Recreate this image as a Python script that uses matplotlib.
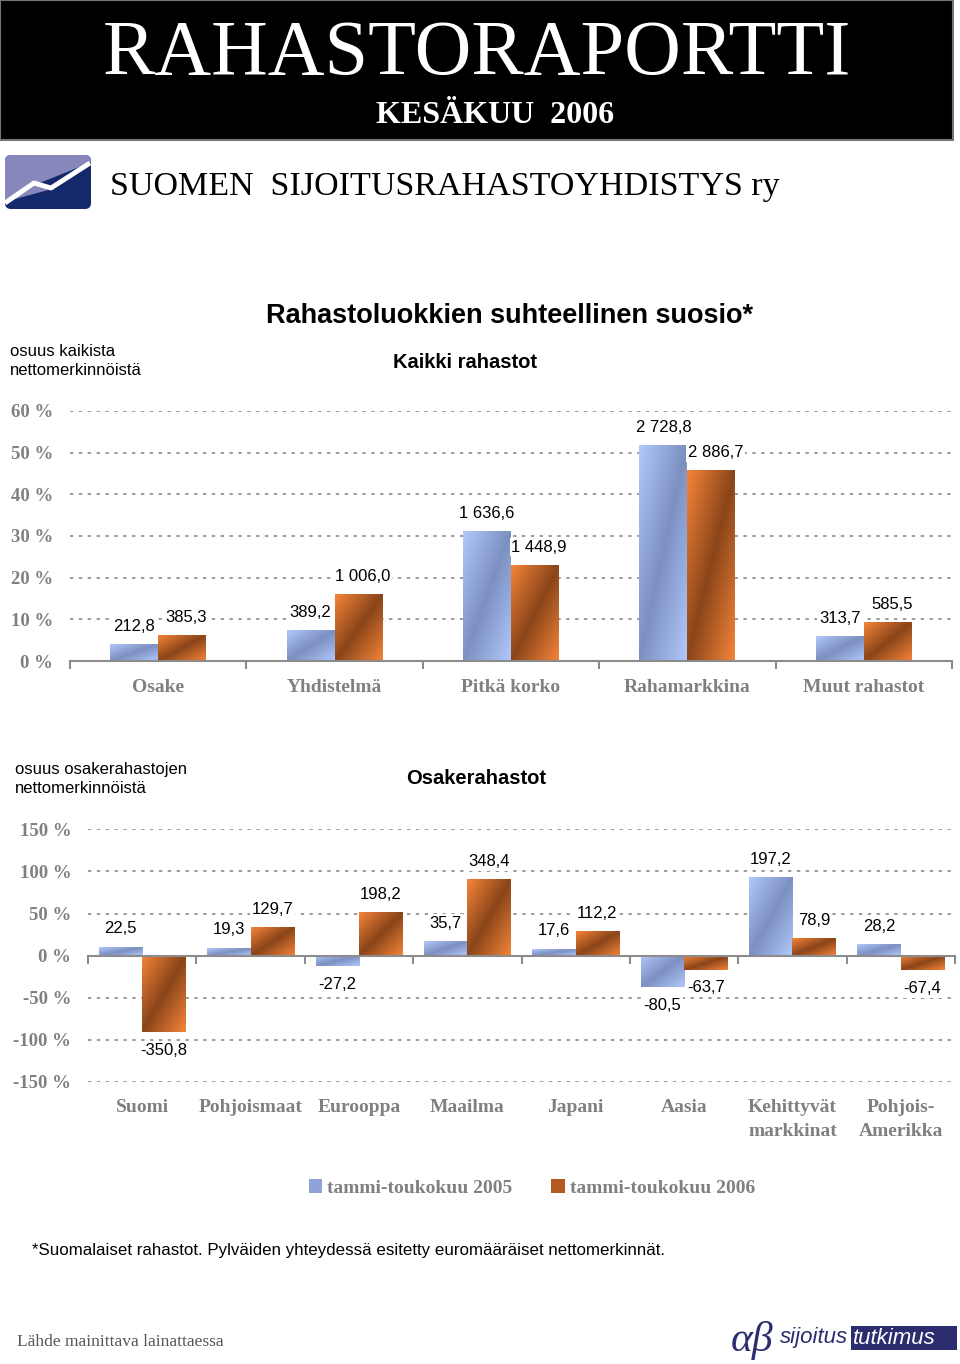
import numpy as np
import matplotlib
matplotlib.use('Agg')
import matplotlib.pyplot as plt
from matplotlib.colors import LinearSegmentedColormap
from matplotlib.patches import Rectangle, FancyBboxPatch, Polygon
from matplotlib.ticker import FuncFormatter

# --- data ---
luokat = ['Osake', 'Yhdistelmä', 'Pitkä korko', 'Rahamarkkina', 'Muut rahastot']
kaikki_2005 = [4.0, 7.4, 31.0, 51.7, 5.9]
kaikki_2006 = [6.1, 15.9, 23.0, 45.7, 9.3]
kaikki_eur_2005 = ['212,8', '389,2', '1 636,6', '2 728,8', '313,7']
kaikki_eur_2006 = ['385,3', '1 006,0', '1 448,9', '2 886,7', '585,5']

alueet = ['Suomi', 'Pohjoismaat', 'Eurooppa', 'Maailma', 'Japani', 'Aasia',
          'Kehittyvät\nmarkkinat', 'Pohjois-\nAmerikka']
osake_2005 = [10.6, 9.1, -12.8, 16.8, 8.3, -37.8, 92.7, 13.3]
osake_2006 = [-91.0, 33.7, 51.4, 90.4, 29.1, -16.5, 20.5, -17.5]
osake_eur_2005 = ['22,5', '19,3', '-27,2', '35,7', '17,6', '-80,5', '197,2', '28,2']
osake_eur_2006 = ['-350,8', '129,7', '198,2', '348,4', '112,2', '-63,7', '78,9', '-67,4']

sarjat = ['tammi-toukokuu 2005', 'tammi-toukokuu 2006']

SANS = ['Liberation Sans', 'DejaVu Sans']
SERIF = ['Liberation Serif', 'DejaVu Serif']
GREY = '#808080'

cmap05 = LinearSegmentedColormap.from_list('c05', ['#b2c8fa', '#7c90c2', '#b2c8fa'])
cmap06 = LinearSegmentedColormap.from_list('c06', ['#f5843a', '#8a4519', '#f5843a'])

W, H = 960, 1364
fig = plt.figure(figsize=(W / 100, H / 100), dpi=100)


def fx(x):
    return x / W


def fy(y):
    return 1 - y / H


# --- header ---
fig.patches.append(Rectangle((0, fy(140)), fx(953), 140 / H, transform=fig.transFigure,
                             facecolor='black', edgecolor='#777777', lw=1.5))
fig.text(fx(477), fy(47), 'RAHASTORAPORTTI', color='white', family=SERIF,
         fontsize=56.5, ha='center', va='center_baseline')
fig.text(fx(495), fy(112), 'KESÄKUU  2006', color='white', family=SERIF,
         fontsize=23, fontweight='bold', ha='center', va='center_baseline')
fig.text(fx(110), fy(183), 'SUOMEN  SIJOITUSRAHASTOYHDISTYS ry', color='black',
         family=SERIF, fontsize=24.5, ha='left', va='center_baseline')

# logo
lax = fig.add_axes([fx(4), fy(210), fx(88), 56 / H])
lax.set_xlim(0, 88)
lax.set_ylim(56, 0)
lax.axis('off')
box = FancyBboxPatch((1, 1), 86, 54, boxstyle='round,pad=0,rounding_size=6',
                     facecolor='#14296b', edgecolor='none')
lax.add_patch(box)
top = Polygon([(0, 0), (88, 0), (88, 8), (33, 30), (48, 35), (0, 48)], closed=True,
              facecolor='#8787bb', edgecolor='none')
lax.add_patch(top)
top.set_clip_path(box)
lax.plot([1, 30, 47, 86], [49, 29, 34, 9], color='white', lw=3.5, solid_capstyle='butt')

# --- chart helpers ---
def gradient_bars(ax, bars, cmap):
    u = np.linspace(0, 1, 80)
    z = (u[None, :] + u[:, None]) / 2
    for b in bars:
        x, y = b.get_x(), b.get_y()
        w, h = b.get_width(), b.get_height()
        y0, y1 = min(y, y + h), max(y, y + h)
        ax.imshow(z, cmap=cmap, extent=(x, x + w, y0, y1), origin='upper',
                  aspect='auto', zorder=2, interpolation='bilinear')
        b.set_facecolor('none')
        b.set_edgecolor('none')


def value_labels(ax, bars, texts, dx):
    for b, t in zip(bars, texts):
        h = b.get_height()
        xc = b.get_x() + b.get_width() / 2
        dy = 13 if h >= 0 else -13
        ax.annotate(t, (xc, h), xytext=(dx, dy), textcoords='offset points',
                    ha='center', va='center', fontsize=12, family=SANS, color='black',
                    zorder=4, bbox=dict(boxstyle='square,pad=0.1', facecolor='white',
                                        edgecolor='none'))


def style_axes(ax, n, ymin, ymax, step, names, label_y):
    ax.set_xlim(-0.5, n - 0.5)
    ax.set_ylim(ymin, ymax)
    ax.set_yticks(np.arange(ymin, ymax + 1, step))
    ax.yaxis.set_major_formatter(FuncFormatter(lambda v, p: f'{v:.0f} %'))
    ax.tick_params(axis='y', length=0, pad=12, labelsize=13.5, labelcolor=GREY)
    for lab in ax.get_yticklabels():
        lab.set_family(SERIF)
        lab.set_fontweight('bold')
    ax.grid(axis='y', color=GREY, linestyle=(0, (2.2, 3.6)), linewidth=1.1)
    ax.set_axisbelow(True)
    for s in ['left', 'right', 'top']:
        ax.spines[s].set_visible(False)
    ax.spines['bottom'].set_position(('data', 0))
    ax.spines['bottom'].set_color('#8c8c8c')
    ax.spines['bottom'].set_linewidth(1.5)
    ax.spines['bottom'].set_zorder(3)
    ax.set_xticks(np.arange(-0.5, n, 1))
    ax.tick_params(axis='x', length=6, width=1.5, color='#8c8c8c', labelbottom=False,
                   direction='out')
    for i, name in enumerate(names):
        ax.text(i, label_y, name, transform=ax.get_xaxis_transform(), ha='center',
                va='top', fontsize=14, fontweight='bold', color=GREY, family=SERIF,
                linespacing=1.55)
    ax.set_facecolor('none')


# --- chart 1: kaikki rahastot ---
fig.text(fx(510), fy(316), 'Rahastoluokkien suhteellinen suosio*', family=SANS,
         fontsize=19.5, fontweight='bold', ha='center', va='center')
fig.text(fx(465), fy(362), 'Kaikki rahastot', family=SANS, fontsize=14.5,
         fontweight='bold', ha='center', va='center')
fig.text(fx(10), fy(361), 'osuus kaikista\nnettomerkinnöistä', family=SANS,
         fontsize=12, ha='left', va='center', linespacing=1.3)

ax1 = fig.add_axes([fx(70), fy(661), fx(952 - 70), 250 / H])
x1 = np.arange(len(luokat))
w1 = 0.272
b1a = ax1.bar(x1 - w1 / 2, kaikki_2005, w1, label=sarjat[0])
b1b = ax1.bar(x1 + w1 / 2, kaikki_2006, w1, label=sarjat[1])
gradient_bars(ax1, b1a, cmap05)
gradient_bars(ax1, b1b, cmap06)
style_axes(ax1, len(luokat), 0, 60, 10, luokat, -0.074)
value_labels(ax1, b1a, kaikki_eur_2005, 0)
value_labels(ax1, b1b, kaikki_eur_2006, 3)

# --- chart 2: osakerahastot ---
fig.text(fx(476), fy(778), 'Osakerahastot', family=SANS, fontsize=14.5,
         fontweight='bold', ha='center', va='center')
fig.text(fx(15), fy(779), 'osuus osakerahastojen\nnettomerkinnöistä', family=SANS,
         fontsize=12, ha='left', va='center', linespacing=1.3)

ax2 = fig.add_axes([fx(88), fy(1082), fx(955 - 88), (1082 - 829.3) / H])
x2 = np.arange(len(alueet))
w2 = 0.4
b2a = ax2.bar(x2 - w2 / 2, osake_2005, w2, label=sarjat[0])
b2b = ax2.bar(x2 + w2 / 2, osake_2006, w2, label=sarjat[1])
gradient_bars(ax2, b2a, cmap05)
gradient_bars(ax2, b2b, cmap06)
style_axes(ax2, len(alueet), -150, 150, 50, alueet, -0.068)
value_labels(ax2, b2a, osake_eur_2005, 0)
value_labels(ax2, b2b, osake_eur_2006, 0)

# legend
handles = [Rectangle((0, 0), 1, 1, facecolor='#8fa3d6'),
           Rectangle((0, 0), 1, 1, facecolor='#b35a22')]
leg = fig.legend(handles, sarjat, loc='center', bbox_to_anchor=(fx(532), fy(1188)),
                 ncol=2, frameon=False, handlelength=0.7, handleheight=0.7,
                 handletextpad=0.25, columnspacing=2.0,
                 prop={'family': SERIF, 'weight': 'bold', 'size': 14})
for t in leg.get_texts():
    t.set_color(GREY)

# --- footer ---
fig.text(fx(32), fy(1251),
         '*Suomalaiset rahastot. Pylväiden yhteydessä esitetty euromääräiset nettomerkinnät.',
         family=SANS, fontsize=12.2, ha='left', va='center')
fig.text(fx(17), fy(1342), 'Lähde mainittava lainattaessa', family=SERIF, fontsize=12.5,
         color='#555555', ha='left', va='center')

NAVY = '#2c2d6e'
fig.text(fx(752), fy(1340), 'αβ', family=SERIF, fontsize=30, color=NAVY,
         ha='center', va='center', style='italic')
fig.text(fx(780), fy(1338), 'sijoitus', family=SANS, fontsize=16, color=NAVY,
         ha='left', va='center', style='italic')
fig.patches.append(Rectangle((fx(851), fy(1350)), fx(106), 24 / H, transform=fig.transFigure,
                             facecolor=NAVY, edgecolor='none'))
fig.text(fx(853), fy(1338), 'tutkimus', family=SANS, fontsize=16, color='white',
         ha='left', va='center', style='italic')

fig.savefig('out.png', dpi=100)
